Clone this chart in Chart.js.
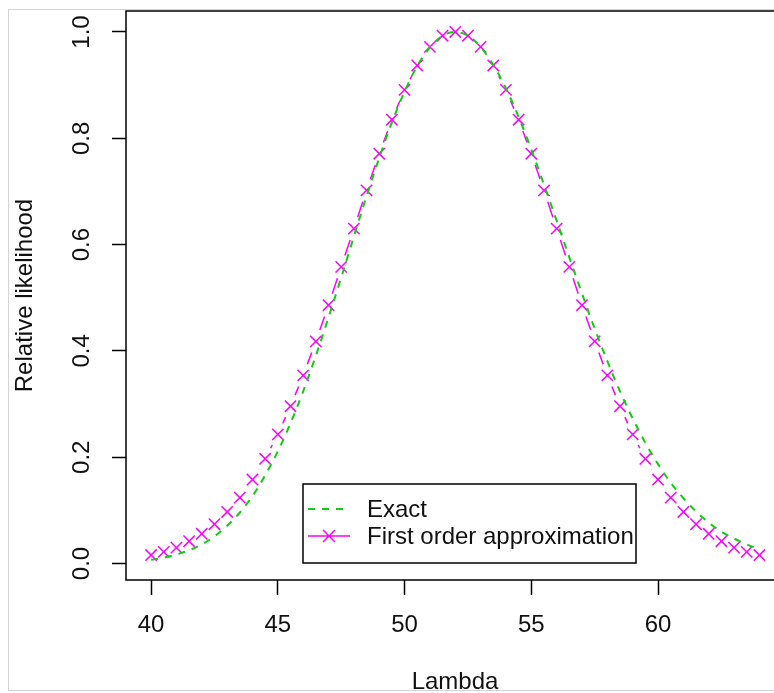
<!DOCTYPE html>
<html>
<head>
<meta charset="utf-8">
<script src="https://cdn.jsdelivr.net/npm/chart.js@4"></script>
<style>
html, body { margin: 0; padding: 0; background: #fff; overflow: hidden; width: 774px; height: 693px; }
#frame { position: absolute; left: 8px; top: 9px; width: 800px; height: 680px;
  border-left: 1px solid #d4d4d4; border-top: 1px solid #d4d4d4; border-bottom: 1px solid #d4d4d4; }
#c { position: absolute; left: 0; top: 0; }
</style>
</head>
<body>
<div id="frame"></div>
<canvas id="c" width="800" height="720"></canvas>
<script>
var lambda = [40, 40.5, 41, 41.5, 42, 42.5, 43, 43.5, 44, 44.5, 45, 45.5, 46, 46.5, 47, 47.5,
  48, 48.5, 49, 49.5, 50, 50.5, 51, 51.5, 52, 52.5, 53, 53.5, 54, 54.5, 55, 55.5,
  56, 56.5, 57, 57.5, 58, 58.5, 59, 59.5, 60, 60.5, 61, 61.5, 62, 62.5, 63, 63.5, 64];

// relative likelihood, exact curve (green dashed)
var exact = [0.007, 0.011, 0.017, 0.025, 0.036, 0.051, 0.071, 0.096, 0.127, 0.166, 0.211, 0.264,
  0.324, 0.391, 0.463, 0.538, 0.615, 0.691, 0.763, 0.830, 0.888, 0.936, 0.971, 0.993, 1.000,
  0.993, 0.972, 0.938, 0.894, 0.840, 0.779, 0.713, 0.645, 0.576, 0.508, 0.442, 0.381, 0.324,
  0.273, 0.227, 0.187, 0.152, 0.123, 0.098, 0.077, 0.060, 0.047, 0.036, 0.027];

// first order approximation (magenta crosses)
var approx = [0.016, 0.022, 0.030, 0.042, 0.056, 0.074, 0.097, 0.124, 0.158, 0.197, 0.243, 0.296,
  0.354, 0.418, 0.486, 0.558, 0.630, 0.702, 0.771, 0.835, 0.891, 0.937, 0.972, 0.993, 1.000,
  0.993, 0.972, 0.937, 0.891, 0.835, 0.771, 0.702, 0.630, 0.558, 0.486, 0.418, 0.354, 0.296,
  0.243, 0.197, 0.158, 0.124, 0.097, 0.074, 0.056, 0.042, 0.030, 0.022, 0.016];

var xTicks = [40, 45, 50, 55, 60];
var yTicks = [0, 0.2, 0.4, 0.6, 0.8, 1.0];

var FONT = "'Liberation Sans', Arial, sans-serif";
var GREEN = '#11cc11';
var MAGENTA = '#ff00ff';
var INK = '#111';

function pts(ys) {
  return lambda.map(function (x, i) { return { x: x, y: ys[i] }; });
}

// R style type="b": line pieces between the points, with a gap round each point
var gapLines = {
  id: 'gapLines',
  beforeDatasetDraw: function (chart, args) {
    if (args.index !== 1) return;
    var p = chart.getDatasetMeta(1).data;
    var ctx = chart.ctx, gap = 12;
    ctx.save();
    ctx.strokeStyle = MAGENTA;
    ctx.lineWidth = 1.5;
    ctx.beginPath();
    for (var i = 0; i < p.length - 1; i++) {
      var dx = p[i + 1].x - p[i].x, dy = p[i + 1].y - p[i].y;
      var len = Math.sqrt(dx * dx + dy * dy);
      if (len <= 2 * gap) continue;
      var ux = dx / len, uy = dy / len;
      ctx.moveTo(p[i].x + ux * gap, p[i].y + uy * gap);
      ctx.lineTo(p[i + 1].x - ux * gap, p[i + 1].y - uy * gap);
    }
    ctx.stroke();
    ctx.restore();
  }
};

var boxAndLegend = {
  id: 'boxAndLegend',
  afterDatasetsDraw: function (chart) {
    var ctx = chart.ctx, a = chart.chartArea;
    ctx.save();
    ctx.strokeStyle = '#000';
    ctx.lineWidth = 1.5;
    ctx.strokeRect(a.left, a.top, a.right - a.left, a.bottom - a.top);

    // legend
    ctx.fillStyle = '#fff';
    ctx.fillRect(303, 484, 333, 79);
    ctx.strokeRect(303, 484, 333, 79);
    ctx.strokeStyle = GREEN;
    ctx.lineWidth = 2;
    ctx.setLineDash([7, 7]);
    ctx.beginPath();
    ctx.moveTo(308, 509); ctx.lineTo(350, 509);
    ctx.stroke();
    ctx.setLineDash([]);
    ctx.strokeStyle = MAGENTA;
    ctx.lineWidth = 1.5;
    ctx.beginPath();
    ctx.moveTo(308, 536); ctx.lineTo(350, 536);
    ctx.moveTo(323, 530); ctx.lineTo(335, 542);
    ctx.moveTo(335, 530); ctx.lineTo(323, 542);
    ctx.stroke();
    ctx.fillStyle = INK;
    ctx.font = '24px ' + FONT;
    ctx.textBaseline = 'middle';
    ctx.fillText(chart.data.datasets[0].label, 367, 510);
    ctx.fillText(chart.data.datasets[1].label, 367, 537);
    ctx.restore();
  }
};

new Chart(document.getElementById('c'), {
  type: 'line',
  data: {
    datasets: [{
      label: 'Exact',
      data: pts(exact),
      borderColor: GREEN,
      borderWidth: 2,
      borderDash: [7, 7],
      pointRadius: 0,
      cubicInterpolationMode: 'monotone',
      fill: false
    }, {
      label: 'First order approximation',
      data: pts(approx),
      showLine: false,
      pointStyle: 'crossRot',
      pointRadius: 8,
      pointBorderColor: MAGENTA,
      pointBorderWidth: 1.5,
      fill: false
    }]
  },
  options: {
    responsive: false,
    devicePixelRatio: 1,
    animation: false,
    events: [],
    layout: { padding: { top: 11, right: 16, bottom: 0, left: 0 } },
    plugins: { legend: { display: false }, tooltip: { enabled: false } },
    scales: {
      x: {
        type: 'linear',
        min: 39.01,
        max: 64.97,
        afterFit: function (s) { s.height = 140; s.paddingLeft = 0; s.paddingRight = 0; },
        afterBuildTicks: function (s) { s.ticks = xTicks.map(function (v) { return { value: v }; }); },
        ticks: {
          font: { size: 24, family: FONT },
          color: INK,
          padding: 16,
          maxRotation: 0,
          callback: function (v) { return String(v); }
        },
        grid: { drawOnChartArea: false, tickLength: 15, tickColor: '#000', tickWidth: 1.5 },
        border: { display: false },
        title: {
          display: true,
          text: 'Lambda',
          font: { size: 24, family: FONT },
          color: INK,
          padding: { top: 0, bottom: 23 }
        }
      },
      y: {
        min: -0.031,
        max: 1.0395,
        afterFit: function (s) { s.width = 126; s.paddingTop = 0; s.paddingBottom = 0; },
        afterBuildTicks: function (s) { s.ticks = yTicks.map(function (v) { return { value: v }; }); },
        ticks: {
          font: { size: 24, family: FONT },
          color: INK,
          padding: 13,
          minRotation: 90,
          maxRotation: 90,
          crossAlign: 'center',
          callback: function (v) { return v.toFixed(1); }
        },
        grid: { drawOnChartArea: false, tickLength: 14, tickColor: '#000', tickWidth: 1.5 },
        border: { display: false },
        title: {
          display: true,
          text: 'Relative likelihood',
          font: { size: 24, family: FONT },
          color: INK,
          padding: { top: 11, bottom: 0 }
        }
      }
    }
  },
  plugins: [gapLines, boxAndLegend]
});
</script>
</body>
</html>
